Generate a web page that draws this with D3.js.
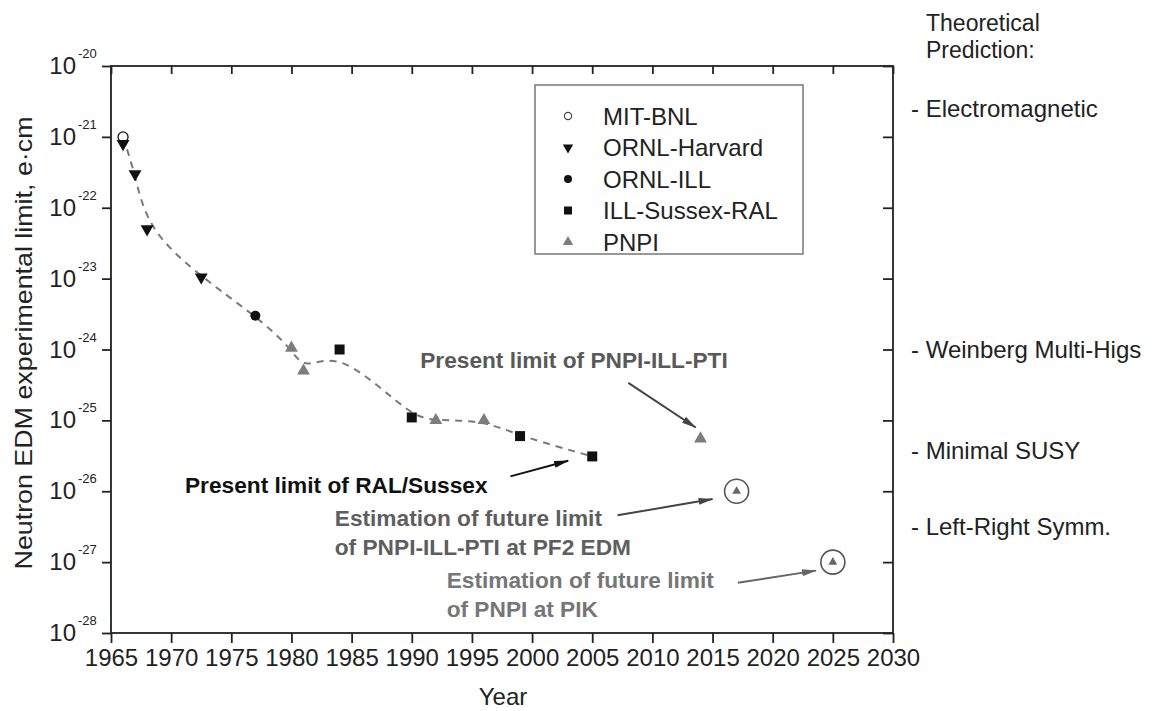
<!DOCTYPE html>
<html>
<head>
<meta charset="utf-8">
<script src="https://cdn.jsdelivr.net/npm/d3@7"></script>
<style>
  body { margin: 0; background: #fff; }
  text { font-family: "Liberation Sans", Arial, sans-serif; }
</style>
</head>
<body>
<svg id="chart" width="1153" height="711"></svg>
<script>
'use strict'

// measured limits, year -> e·cm
const mitYears = [1966]
const mitValues = [1e-21]
const harvardYears = [1966, 1967, 1968, 1972.5]
const harvardValues = [8e-22, 3e-22, 5e-23, 1.05e-23]
const ornlIllYears = [1977]
const ornlIllValues = [3e-24]
const sussexYears = [1984, 1990, 1999, 2005]
const sussexValues = [1e-24, 1.1e-25, 6e-26, 3.1e-26]
const pnpiYears = [1980, 1981, 1992, 1996, 2014]
const pnpiValues = [1.05e-24, 5e-25, 1e-25, 1e-25, 5.5e-26]
// projected limits
const futureYears = [2017, 2025]
const futureValues = [1e-26, 1e-27]

const xTicks = [1965, 1970, 1975, 1980, 1985, 1990, 1995, 2000, 2005, 2010, 2015, 2020, 2025, 2030]
const yExponents = [-28, -27, -26, -25, -24, -23, -22, -21, -20]

const predictionLabels = ['- Electromagnetic', '- Weinberg Multi-Higs', '- Minimal SUSY', '- Left-Right Symm.']
const predictionValues = [2.5e-21, 1e-24, 3.8e-26, 3.2e-27]

const svg = d3.select('#chart')
const x = d3.scaleLinear().domain([1965, 2030]).range([111, 893])
const y = d3.scaleLog().domain([1e-28, 1e-20]).range([633, 66])

const zip = (ys, vs, name) => ys.map((yr, i) => ({ year: yr, value: vs[i], name: name }))
const mit = zip(mitYears, mitValues, 'mit')
const harvard = zip(harvardYears, harvardValues, 'harvard')
const ornlIll = zip(ornlIllYears, ornlIllValues, 'ornlill')
const sussex = zip(sussexYears, sussexValues, 'sussex')
const pnpi = zip(pnpiYears, pnpiValues, 'pnpi')
const future = zip(futureYears, futureValues, 'future')

// axes
const ink = '#222'
const yTickVals = yExponents.map(e => Math.pow(10, e))
const axBottom = svg.append('g').attr('transform', 'translate(0,633)')
  .call(d3.axisBottom(x).tickValues(xTicks).tickSize(10).tickPadding(6).tickFormat(d3.format('d')))
const axTop = svg.append('g').attr('transform', 'translate(0,66)')
  .call(d3.axisTop(x).tickValues(xTicks).tickSize(-8).tickFormat(''))
const axLeft = svg.append('g').attr('transform', 'translate(111,0)')
  .call(d3.axisLeft(y).tickValues(yTickVals).tickSize(9).tickFormat(''))
const axRight = svg.append('g').attr('transform', 'translate(893,0)')
  .call(d3.axisRight(y).tickValues(yTickVals).tickSize(-10).tickFormat(''))

;[axBottom, axTop, axLeft, axRight].forEach(g => {
  g.select('.domain').remove()
  g.selectAll('line').attr('stroke', ink).attr('stroke-width', 1.8)
})
axBottom.selectAll('text').attr('font-size', 24).attr('fill', ink)
  .attr('font-family', '"Liberation Sans", Arial, sans-serif')

svg.append('rect')
  .attr('x', x(1965)).attr('y', y(1e-20))
  .attr('width', x(2030) - x(1965)).attr('height', y(1e-28) - y(1e-20))
  .attr('fill', 'none').attr('stroke', ink).attr('stroke-width', 1.8)

// y tick labels 10^n
svg.append('g').selectAll('text').data(yExponents).join('text')
  .attr('x', 76).attr('y', d => y(Math.pow(10, d)) + 8)
  .attr('text-anchor', 'end').attr('font-size', 24).attr('fill', ink)
  .text('10')
svg.append('g').selectAll('text').data(yExponents).join('text')
  .attr('x', 78).attr('y', d => y(Math.pow(10, d)) - 8)
  .attr('font-size', 13).attr('fill', ink)
  .text(d => String(d))

svg.append('text')
  .attr('transform', 'translate(32,343) rotate(-90)')
  .attr('text-anchor', 'middle').attr('font-size', 24).attr('fill', ink)
  .attr('textLength', 453).attr('lengthAdjust', 'spacingAndGlyphs')
  .text('Neutron EDM experimental limit, e·cm')

svg.append('text')
  .attr('x', 503).attr('y', 705).attr('text-anchor', 'middle')
  .attr('font-size', 24).attr('fill', ink).text('Year')

// theoretical predictions on the right
svg.append('text').attr('x', 926).attr('y', 31).attr('font-size', 23).attr('fill', ink).text('Theoretical')
svg.append('text').attr('x', 926).attr('y', 58).attr('font-size', 23).attr('fill', ink).text('Prediction:')
svg.append('g').selectAll('text').data(predictionLabels).join('text')
  .attr('x', 911).attr('y', (d, i) => y(predictionValues[i])).attr('dy', '0.36em')
  .attr('font-size', 24).attr('fill', ink)
  .text(d => d)

// dashed trend through the measurements up to 2005
const trend = [...mit, ...harvard, ...ornlIll, ...sussex, ...pnpi]
  .filter(d => d.year <= 2005)
  .sort((a, b) => a.year - b.year)
  .filter((d, i, arr) => i === 0 || d.year !== arr[i - 1].year)

svg.append('path')
  .datum(trend)
  .attr('fill', 'none').attr('stroke', '#7a7a7a').attr('stroke-width', 2)
  .attr('stroke-dasharray', '7,6')
  .attr('d', d3.line().x(d => x(d.year)).y(d => y(d.value)).curve(d3.curveBasis))

// markers
const tri = d3.symbol().type(d3.symbolTriangle)
const sq = d3.symbol().type(d3.symbolSquare)
const pnpiGrey = '#7d7d7d'

svg.append('g').selectAll('circle').data(mit).join('circle')
  .attr('cx', d => x(d.year)).attr('cy', d => y(d.value)).attr('r', 5)
  .attr('fill', '#fff').attr('stroke', '#111').attr('stroke-width', 1.3)

svg.append('g').selectAll('path').data(harvard).join('path')
  .attr('transform', d => `translate(${x(d.year)},${y(d.value)}) rotate(180)`)
  .attr('d', tri.size(72)).attr('fill', '#111')

svg.append('g').selectAll('circle').data(ornlIll).join('circle')
  .attr('cx', d => x(d.year)).attr('cy', d => y(d.value)).attr('r', 5).attr('fill', '#111')

svg.append('g').selectAll('path').data(sussex).join('path')
  .attr('transform', d => `translate(${x(d.year)},${y(d.value)})`)
  .attr('d', sq.size(100)).attr('fill', '#111')

svg.append('g').selectAll('path').data(pnpi).join('path')
  .attr('transform', d => `translate(${x(d.year)},${y(d.value)})`)
  .attr('d', tri.size(72)).attr('fill', pnpiGrey)

const fut = svg.append('g').selectAll('g').data(future).join('g')
  .attr('transform', d => `translate(${x(d.year)},${y(d.value)})`)
fut.append('circle').attr('r', 12).attr('fill', '#fff').attr('stroke', '#555').attr('stroke-width', 1.6)
fut.append('path').attr('d', tri.size(34)).attr('fill', '#666')

// legend
const legendItems = ['MIT-BNL', 'ORNL-Harvard', 'ORNL-ILL', 'ILL-Sussex-RAL', 'PNPI']
svg.append('rect').attr('x', 535).attr('y', 85).attr('width', 268).attr('height', 169)
  .attr('fill', '#fff').attr('stroke', '#777').attr('stroke-width', 1.5)
const lg = svg.append('g').selectAll('g').data(legendItems).join('g')
  .attr('transform', (d, i) => `translate(568,${116 + i * 31.5})`)
lg.append('text').attr('x', 35).attr('dy', '0.36em').attr('font-size', 24).attr('fill', ink).text(d => d)
lg.each(function (d, i) {
  const g = d3.select(this)
  if (i === 0) g.append('circle').attr('r', 3.6).attr('fill', '#fff').attr('stroke', '#444').attr('stroke-width', 1.2)
  if (i === 1) g.append('path').attr('d', tri.size(46)).attr('transform', 'rotate(180)').attr('fill', '#111')
  if (i === 2) g.append('circle').attr('r', 4).attr('fill', '#111')
  if (i === 3) g.append('path').attr('d', sq.size(64)).attr('fill', '#111')
  if (i === 4) g.append('path').attr('d', tri.size(46)).attr('fill', pnpiGrey)
})

// annotations, placed in data coordinates (year, log10 value)
const notes = [
  { lines: ['Present limit of PNPI-ILL-PTI'], at: [1990.7, -24.26], color: '#595959',
    from: [2008.0, -24.47], to: [2013.6, -25.10], arrow: '#444' },
  { lines: ['Present limit of RAL/Sussex'], at: [1971.15, -26.03], color: '#111',
    from: [1998.2, -25.79], to: [2003.0, -25.57], arrow: '#111' },
  { lines: ['Estimation of future limit', 'of PNPI-ILL-PTI at PF2 EDM'], at: [1983.6, -26.49], color: '#5e5e5e',
    from: [2007.1, -26.34], to: [2015.0, -26.11], arrow: '#444' },
  { lines: ['Estimation of future limit', 'of PNPI at PIK'], at: [1992.9, -27.37], color: '#767676',
    from: [2017.1, -27.29], to: [2023.6, -27.12], arrow: '#666' }
]

const defs = svg.append('defs')
notes.forEach((n, i) => {
  defs.append('marker').attr('id', 'ah' + i)
    .attr('markerUnits', 'userSpaceOnUse').attr('markerWidth', 15).attr('markerHeight', 9)
    .attr('refX', 14).attr('refY', 3.5).attr('orient', 'auto')
    .append('path').attr('d', 'M0,0 L15,3.5 L0,7 Z').attr('fill', n.arrow)
})

const yy = e => y(Math.pow(10, e))
notes.forEach((n, i) => {
  const t = svg.append('text').attr('x', x(n.at[0])).attr('y', yy(n.at[1]))
    .attr('font-size', 22.7).attr('font-weight', 'bold').attr('fill', n.color)
  n.lines.forEach((l, j) => {
    t.append('tspan').attr('x', x(n.at[0])).attr('dy', j === 0 ? 0 : 29).text(l)
  })
  svg.append('line')
    .attr('x1', x(n.from[0])).attr('y1', yy(n.from[1]))
    .attr('x2', x(n.to[0])).attr('y2', yy(n.to[1]))
    .attr('stroke', n.arrow).attr('stroke-width', 2)
    .attr('marker-end', `url(#ah${i})`)
})
</script>
</body>
</html>
